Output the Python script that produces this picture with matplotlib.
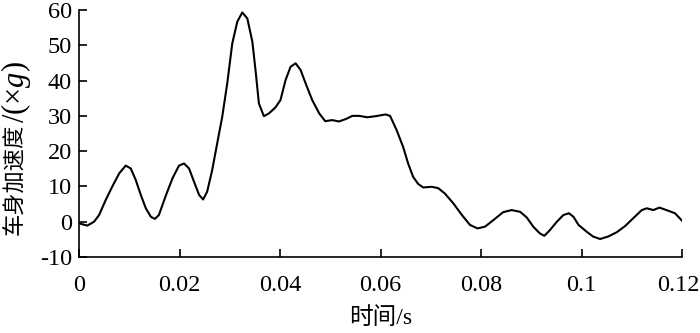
import matplotlib
matplotlib.use("Agg")
import matplotlib.pyplot as plt
import matplotlib.transforms as mtransforms

plt.rcParams['font.family'] = ['Liberation Serif', 'Noto Sans CJK SC', 'DejaVu Sans']
plt.rcParams['mathtext.fontset'] = 'custom'
plt.rcParams['mathtext.rm'] = 'Liberation Serif'
plt.rcParams['mathtext.it'] = 'Liberation Serif:italic'
plt.rcParams['axes.unicode_minus'] = False

time_s = [0.0, 0.00166, 0.0030, 0.0040, 0.0053, 0.0066, 0.0080, 0.0093, 0.0103, 0.0113,
          0.0123, 0.0133, 0.0143, 0.0151, 0.0159, 0.0172, 0.0186, 0.0199, 0.0209, 0.0219,
          0.0229, 0.0239, 0.0247, 0.0255, 0.0265, 0.0275, 0.0285, 0.0295, 0.0305, 0.0315,
          0.0325, 0.0335, 0.0345, 0.0352, 0.0358, 0.0368, 0.0378, 0.0391, 0.0401, 0.0411,
          0.0421, 0.0431, 0.0441, 0.0451, 0.0464, 0.0478, 0.0490, 0.0504, 0.0517, 0.0531,
          0.0544, 0.0557, 0.0574, 0.0590, 0.0610, 0.0619, 0.0632, 0.0645, 0.0655, 0.0665,
          0.0675, 0.0685, 0.0702, 0.0715, 0.0728, 0.0745, 0.0762, 0.0778, 0.0793, 0.0808,
          0.0825, 0.0844, 0.0861, 0.0878, 0.0891, 0.0904, 0.0917, 0.0926, 0.0937, 0.0951,
          0.0964, 0.0975, 0.0984, 0.0994, 0.1010, 0.1023, 0.1037, 0.1053, 0.1070, 0.1087,
          0.1103, 0.1120, 0.1130, 0.1143, 0.1155, 0.1169, 0.1186, 0.1200]
accel_g = [-0.46, -1.1, 0.0, 1.9, 6.1, 9.9, 13.7, 15.9, 15.1, 11.8,
           7.6, 3.8, 1.4, 0.8, 1.9, 7.1, 12.3, 15.9, 16.5, 15.1,
           11.3, 7.6, 6.3, 8.5, 14.6, 22.2, 29.7, 39.2, 50.5, 56.7,
           59.3, 57.6, 51.0, 42.0, 33.5, 29.9, 30.7, 32.4, 34.5, 40.1,
           43.9, 44.9, 43.0, 39.2, 34.5, 30.7, 28.5, 28.8, 28.4, 29.1,
           30.0, 30.0, 29.6, 29.9, 30.4, 30.0, 26.0, 21.2, 16.5, 12.7,
           10.7, 9.7, 9.9, 9.5, 8.0, 5.2, 1.9, -0.9, -1.9, -1.4,
           0.5, 2.7, 3.3, 2.8, 1.2, -1.4, -3.3, -4.0, -2.4, 0.0,
           1.9, 2.4, 1.4, -0.9, -2.8, -4.2, -4.9, -4.2, -3.0, -1.2,
           1.0, 3.3, 3.8, 3.3, 4.0, 3.3, 2.4, 0.3]

x_ticks = [0, 0.02, 0.04, 0.06, 0.08, 0.1, 0.12]
x_tick_labels = ['0', '0.02', '0.04', '0.06', '0.08', '0.1', '0.12']
y_ticks = [-10, 0, 10, 20, 30, 40, 50, 60]

W, H = 700, 333
fig = plt.figure(figsize=(W / 100, H / 100), dpi=100)
ax = fig.add_axes([79 / W, 76 / H, 603 / W, 247 / H])
ax.plot(time_s, accel_g, color='black', lw=1.5, solid_joinstyle='round')

ax.set_xlim(0, 0.12)
ax.set_ylim(-10, 60)
ax.set_xticks(x_ticks)
ax.set_xticklabels(x_tick_labels)
ax.set_yticks(y_ticks)
for s in ['top', 'right']:
    ax.spines[s].set_visible(False)
for s in ['left', 'bottom']:
    ax.spines[s].set_linewidth(1.2)
ax.tick_params(direction='in', length=6, width=1.2, labelsize=17.5, colors='black')
ax.tick_params(axis='x', pad=13)
ax.tick_params(axis='y', pad=5)

# keep the last x tick label inside the canvas
last = ax.get_xticklabels()[-1]
last.set_transform(last.get_transform() +
                   mtransforms.ScaledTranslation(-4 / 100, 0, fig.dpi_scale_trans))

ax.set_xlabel('时间/s', fontsize=17, labelpad=8)

# y label: Chinese part, then "/(×g)" in serif with italic g
cx = 15 / W
t1 = fig.text(cx, 98 / H, '车身加速度', rotation=90, ha='center', va='bottom',
              fontsize=16, family='Noto Sans CJK SC')
fig.canvas.draw()
bb = t1.get_window_extent()
fig.text(cx + 1 / W, (bb.y1 + 1) / H, '/(×$g$)', rotation=90, ha='center', va='bottom',
         fontsize=22, family='Liberation Serif')

fig.savefig('out.png', dpi=100)
